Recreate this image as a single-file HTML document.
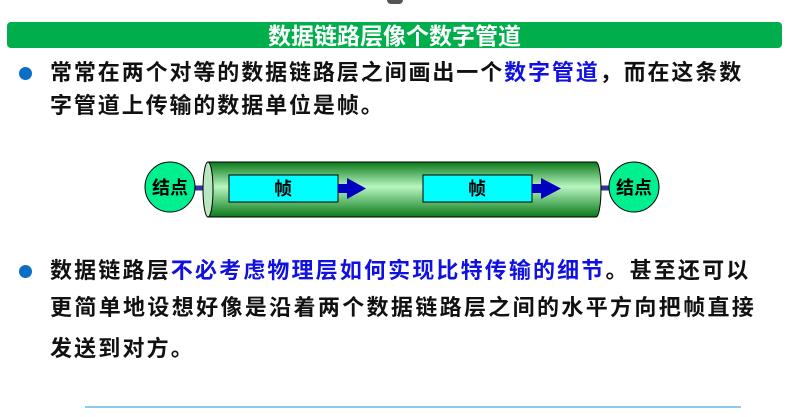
<!DOCTYPE html>
<html><head><meta charset="utf-8"><style>
body{margin:0;width:790px;height:417px;background:#fff;position:relative;overflow:hidden;font-family:"Liberation Sans","Noto Sans CJK SC",sans-serif;}
.t{position:absolute;font-weight:bold;font-size:22px;color:#111;white-space:nowrap;line-height:1}
.b{color:#1010e0}
.dot{position:absolute;width:13px;height:13px;border-radius:50%;background:#0a6fc4}
</style></head><body>
<div style="position:absolute;left:387px;top:0;width:16px;height:4px;background:#555;border-radius:0 0 8px 8px"></div>
<div style="position:absolute;left:7px;top:22px;width:775px;height:26px;background:#00ae4c;border-radius:4px;"></div>
<div style="position:absolute;left:7px;top:23px;width:775px;color:#fff;font-weight:bold;font-size:23px;text-align:center;line-height:26px;font-family:'Liberation Sans','Noto Sans CJK SC',sans-serif">数据链路层像个数字管道</div>
<div class="dot" style="left:19px;top:67px"></div>
<div class="t" style="left:50px;top:62px;letter-spacing:1.9px">常常在两个对等的数据链路层之间画出一个<span class="b">数字管道</span>，而在这条数</div>
<div class="t" style="left:50px;top:95px;letter-spacing:1.9px">字管道上传输的数据单位是帧。</div>

<svg style="position:absolute;left:0;top:0" width="790" height="417">
<defs><linearGradient id="g" x1="0" y1="0" x2="0" y2="1">
<stop offset="0" stop-color="#0a7a1a"/><stop offset="0.45" stop-color="#b8f5c0"/><stop offset="1" stop-color="#0a7a1a"/></linearGradient></defs>
<line x1="195" y1="188" x2="210" y2="188" stroke="#333399" stroke-width="5"/>
<line x1="596" y1="188" x2="612" y2="188" stroke="#333399" stroke-width="5"/>
<path d="M208,162 L596,162 A5,27.5 0 0 1 596,217 L208,217 Z" fill="url(#g)" stroke="#000" stroke-width="1"/>
<ellipse cx="208" cy="189.5" rx="5" ry="27.5" fill="#b8e8c0" stroke="#000" stroke-width="1"/>
<circle cx="170" cy="187" r="25" fill="#00f090" stroke="#000"/>
<circle cx="634" cy="187" r="25" fill="#00f090" stroke="#000"/>
<rect x="229" y="175" width="109" height="27" fill="#00ffff" stroke="#000"/>
<rect x="423" y="175" width="109" height="27" fill="#00ffff" stroke="#000"/>
<path d="M338,184 L347,184 L347,178 L366,188.5 L347,199 L347,193 L338,193 Z" fill="#0000c0"/>
<path d="M532,184 L541,184 L541,178 L561,188.5 L541,199 L541,193 L532,193 Z" fill="#0000c0"/>
<g font-family="Liberation Sans,Noto Sans CJK SC,sans-serif" font-weight="bold" font-size="18" fill="#000" text-anchor="middle">
<text x="170" y="194">结点</text><text x="634" y="194">结点</text>
<text x="283" y="195">帧</text><text x="477" y="195">帧</text></g>
<line x1="85" y1="407" x2="741" y2="407" stroke="#8ccbf0" stroke-width="2"/>
</svg>

<div class="dot" style="left:19px;top:265px"></div>
<div class="t" style="left:50px;top:260px;letter-spacing:2.15px">数据链路层<span class="b">不必考虑物理层如何实现比特传输的细节</span>。甚至还可以</div>
<div class="t" style="left:50px;top:297px;letter-spacing:2.35px">更简单地设想好像是沿着两个数据链路层之间的水平方向把帧直接</div>
<div class="t" style="left:50px;top:338px;letter-spacing:2.15px">发送到对方。</div>
</body></html>
